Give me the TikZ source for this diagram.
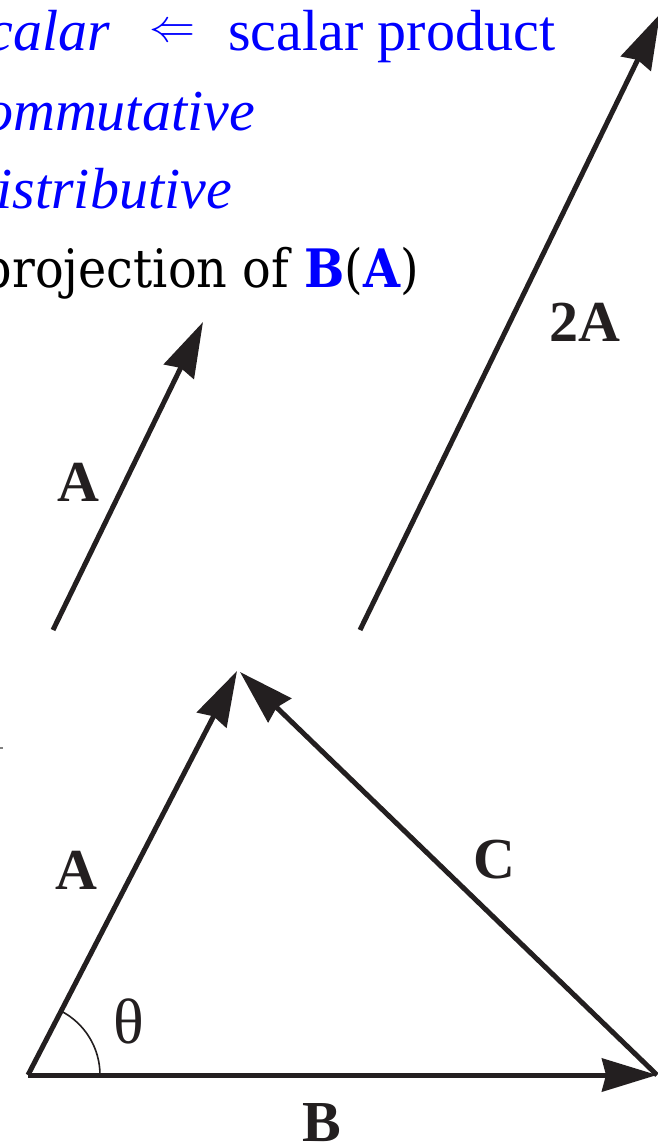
\RequirePackage{fix-cm}
\documentclass[tikz,border=0pt]{standalone}
\usepackage{fontspec}
\setmainfont{Liberation Serif}
\newfontfamily\dvs[FakeStretch=0.9]{DejaVu Serif}
\usetikzlibrary{arrows.meta}
\definecolor{tblue}{RGB}{0,0,255}
\definecolor{ink}{RGB}{35,31,32}
\tikzset{
  vec/.style={line width=5pt, draw=ink, -{Stealth[length=55pt,width=33pt,inset=4pt]}},
  lbl/.style={font=\fontsize{58}{58}\selectfont\bfseries, text=ink, inner sep=0pt},
  txt/.style={font=\fontsize{58}{58}\selectfont, text=tblue, inner sep=0pt},
  itxt/.style={txt, font=\fontsize{58}{58}\selectfont\itshape},
}
\begin{document}
\begin{tikzpicture}[x=1pt,y=-1pt]
\useasboundingbox (0,0) rectangle (658,1145);
\clip (0,0) rectangle (658,1145);
% text lines
\node[itxt, anchor=base east] (t1a) at (110,51) {calar};
\node[inner sep=0pt, text=tblue, font=\fontsize{46}{46}\selectfont] (t1b) at (172,33.5) {$\Leftarrow$};
\node[txt, anchor=base west] (t1c) at (228,51) {scalar product};
\node[itxt, anchor=base east] (t2) at (255,131) {ommutative};
\node[itxt, anchor=base east] (t3) at (232,208) {istributive};
\node[inner sep=0pt, anchor=base east, font=\dvs\fontsize{53}{53}\selectfont] (t4) at (419,287)
  {projection of \textcolor{tblue}{\bfseries B}(\textcolor{tblue}{\bfseries A})};
% free vectors
\coordinate (a0) at (53,630);
\coordinate (a1) at (203,322);
\coordinate (b0) at (360,630);
\coordinate (b1) at (660,14);
\draw[vec] (a0) -- (a1);
\draw[vec] (b0) -- (b1);
\node[lbl] (la) at (78,482) {A};
\node[lbl] (l2a) at (585,322) {2A};
% triangle
\coordinate (O) at (28,1075);
\coordinate (At) at (237,671);
\coordinate (Bt) at (657,1075);
\coordinate (Ct) at (240,672);
\draw[vec] (O) -- (At);
\draw[vec] (O) -- (Bt);
\draw[vec] (Bt) -- (Ct);
\draw[line width=1.6pt, draw=ink] (O) ++(72,0) arc[start angle=0, end angle=-62.7, radius=72];
\node[lbl] (lA) at (76,870) {A};
\node[lbl] (lC) at (494,860) {C};
\node[lbl] (lB) at (322,1123) {B};
\node[inner sep=0pt, text=ink, font=\fontsize{64}{64}\selectfont] (lth) at (129,1021) {θ};
% stray mark at the crop edge
\coordinate (m0) at (0,748);
\coordinate (m1) at (3,748);
\draw[line width=1.5pt, draw=gray] (m0) -- (m1);
\end{tikzpicture}
\end{document}
